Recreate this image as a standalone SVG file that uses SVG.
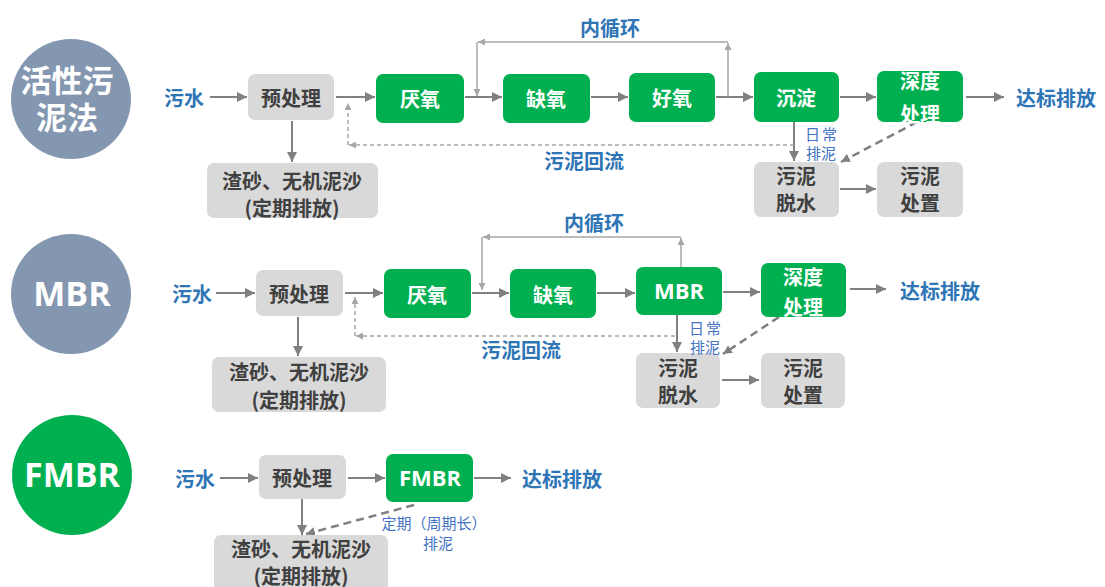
<svg xmlns="http://www.w3.org/2000/svg" width="1105" height="587" viewBox="0 0 1105 587">
<style>
text{font-family:"Noto Sans CJK SC","Noto Sans",sans-serif;dominant-baseline:central;text-anchor:middle}
.lat{font-family:"Open Sans","Noto Sans",sans-serif;font-weight:bold}
.big{font-size:31px;font-weight:bold;fill:#ffffff}
.bigl{font-size:34px;fill:#ffffff}
.lbl{font-size:20px;font-weight:bold;fill:#2E75B6}
.sm{font-size:15px;fill:#4472C4}
.g{fill:#00B050}
.gr{fill:#D9D9D9}
.tw{font-size:20px;font-weight:bold;fill:#ffffff}
.tg{font-size:20px;font-weight:bold;fill:#404040}
.a{stroke:#808080;stroke-width:2;fill:none;marker-end:url(#ah)}
.loop{stroke:#A6A6A6;stroke-width:1.5;fill:none;marker-end:url(#as)}
.ret{stroke:#A6A6A6;stroke-width:1.5;fill:none;stroke-dasharray:4 3;marker-end:url(#as)}
.dg{stroke:#808080;stroke-width:2.5;fill:none;stroke-dasharray:8 5;marker-end:url(#ad)}
</style>
<defs>
<marker id="ah" viewBox="0 0 10 10" refX="10" refY="5" markerWidth="11" markerHeight="10" markerUnits="userSpaceOnUse" orient="auto"><path d="M0,0 L10,5 L0,10 z" fill="#808080"/></marker>
<marker id="as" viewBox="0 0 10 10" refX="10" refY="5" markerWidth="7" markerHeight="7" markerUnits="userSpaceOnUse" orient="auto"><path d="M0,0 L10,5 L0,10 z" fill="#A6A6A6"/></marker>
<marker id="ad" viewBox="0 0 10 10" refX="10" refY="5" markerWidth="9" markerHeight="9" markerUnits="userSpaceOnUse" orient="auto"><path d="M0,0 L10,5 L0,10 z" fill="#808080"/></marker>
</defs>
<rect width="1105" height="587" fill="#ffffff"/>

<g id="connectors">
<!-- row 1 -->
<line class="a" x1="210" y1="97" x2="247" y2="97"/>
<line class="a" x1="336" y1="97" x2="375" y2="97"/>
<line class="a" x1="465" y1="97" x2="502" y2="97"/>
<line class="a" x1="591" y1="97" x2="628" y2="97"/>
<line class="a" x1="716" y1="97" x2="753" y2="97"/>
<line class="a" x1="840" y1="97" x2="876" y2="97"/>
<line class="a" x1="966" y1="97" x2="1004" y2="97"/>
<line class="a" x1="292" y1="121" x2="292" y2="162"/>
<line class="a" x1="794" y1="122" x2="794" y2="161"/>
<line class="a" x1="840" y1="189" x2="876" y2="189"/>
<line class="dg" x1="917" y1="122" x2="841" y2="162"/>
<line class="ret" x1="794" y1="145" x2="349" y2="145"/>
<line class="ret" x1="348" y1="145" x2="348" y2="103"/>
<line class="loop" x1="728" y1="97" x2="728" y2="43"/>
<line class="loop" x1="728" y1="42" x2="478" y2="42"/>
<line class="loop" x1="477" y1="42" x2="477" y2="96"/>
<!-- row 2 -->
<line class="a" x1="216" y1="293" x2="255" y2="293"/>
<line class="a" x1="345" y1="293" x2="383" y2="293"/>
<line class="a" x1="472" y1="293" x2="509" y2="293"/>
<line class="a" x1="597" y1="293" x2="635" y2="293"/>
<line class="a" x1="723" y1="292" x2="760" y2="292"/>
<line class="a" x1="850" y1="289" x2="886" y2="289"/>
<line class="a" x1="298" y1="317" x2="298" y2="356"/>
<line class="a" x1="677" y1="315" x2="677" y2="352"/>
<line class="a" x1="722" y1="380" x2="759" y2="380"/>
<line class="dg" x1="779" y1="317" x2="723" y2="354"/>
<line class="ret" x1="675" y1="336" x2="356" y2="336"/>
<line class="ret" x1="355" y1="336" x2="355" y2="297"/>
<line class="loop" x1="681" y1="267" x2="681" y2="238"/>
<line class="loop" x1="681" y1="237" x2="483" y2="237"/>
<line class="loop" x1="482" y1="237" x2="482" y2="290"/>
<!-- row 3 -->
<line class="a" x1="220" y1="478" x2="258" y2="478"/>
<line class="a" x1="348" y1="478" x2="385" y2="478"/>
<line class="a" x1="474" y1="478" x2="511" y2="478"/>
<line class="a" x1="302" y1="499" x2="302" y2="535"/>
<line class="dg" x1="414" y1="505" x2="306" y2="534"/>
</g>

<!-- Row 1: 活性污泥法 -->
<g id="circle-asp"><circle cx="71" cy="99" r="60" fill="#8497B0"/><text class="big"><tspan x="67" y="78">活性污</tspan><tspan x="67" y="115">泥法</tspan></text></g>
<g id="in1"><text class="lbl" x="184" y="97">污水</text></g>
<g id="pre1"><rect class="gr" x="248" y="74" width="86" height="46" rx="7"/><text class="tg" x="291" y="97">预处理</text></g>
<g id="ana1"><rect class="g" x="376" y="74" width="88" height="49" rx="7"/><text class="tw" x="420" y="98">厌氧</text></g>
<g id="anox1"><rect class="g" x="503" y="74" width="87" height="49" rx="7"/><text class="tw" x="546" y="98">缺氧</text></g>
<g id="aer1"><rect class="g" x="629" y="73" width="86" height="49" rx="7"/><text class="tw" x="672" y="97">好氧</text></g>
<g id="sed1"><rect class="g" x="754" y="72" width="85" height="50" rx="7"/><text class="tw" x="796" y="97">沉淀</text></g>
<g id="adv1"><rect class="g" x="877" y="71" width="86" height="51" rx="7"/><text class="tw" x="920" y="80">深度</text><text class="tw" x="920" y="113">处理</text></g>
<g id="out1"><text class="lbl" x="1056" y="97">达标排放</text></g>
<g id="grit1"><rect class="gr" x="207" y="163" width="171" height="55" rx="7"/><text class="tg" x="292" y="180">渣砂、无机泥沙</text><text class="tg" x="292" y="207">(定期排放)</text></g>
<g id="dew1"><rect class="gr" x="754" y="162" width="85" height="55" rx="7"/><text class="tg" x="796" y="175">污泥</text><text class="tg" x="796" y="202">脱水</text></g>
<g id="disp1"><rect class="gr" x="877" y="162" width="86" height="55" rx="7"/><text class="tg" x="920" y="175">污泥</text><text class="tg" x="920" y="202">处置</text></g>
<g id="lbl1"><text class="lbl" x="610" y="27">内循环</text><text class="lbl" x="584" y="160">污泥回流</text><text class="sm" x="822" y="133" letter-spacing="2">日常</text><text class="sm" x="821" y="152">排泥</text></g>

<!-- Row 2: MBR -->
<g id="circle-mbr"><circle cx="71" cy="294" r="60" fill="#8497B0"/><text class="lat bigl" x="72" y="293">MBR</text></g>
<g id="in2"><text class="lbl" x="192" y="293">污水</text></g>
<g id="pre2"><rect class="gr" x="256" y="270" width="87" height="46" rx="7"/><text class="tg" x="299" y="293">预处理</text></g>
<g id="ana2"><rect class="g" x="384" y="269" width="87" height="49" rx="7"/><text class="tw" x="427" y="294">厌氧</text></g>
<g id="anox2"><rect class="g" x="510" y="269" width="86" height="49" rx="7"/><text class="tw" x="553" y="294">缺氧</text></g>
<g id="mbr2"><rect class="g" x="636" y="267" width="86" height="48" rx="7"/><text class="lat" x="679" y="290" style="font-size:22px;fill:#fff">MBR</text></g>
<g id="adv2"><rect class="g" x="761" y="263" width="85" height="54" rx="7"/><text class="tw" x="803" y="276">深度</text><text class="tw" x="803" y="306">处理</text></g>
<g id="out2"><text class="lbl" x="940" y="290">达标排放</text></g>
<g id="grit2"><rect class="gr" x="212" y="357" width="174" height="55" rx="7"/><text class="tg" x="299" y="371">渣砂、无机泥沙</text><text class="tg" x="299" y="399">(定期排放)</text></g>
<g id="dew2"><rect class="gr" x="636" y="353" width="84" height="55" rx="7"/><text class="tg" x="678" y="367">污泥</text><text class="tg" x="678" y="394">脱水</text></g>
<g id="disp2"><rect class="gr" x="761" y="353" width="84" height="55" rx="7"/><text class="tg" x="803" y="367">污泥</text><text class="tg" x="803" y="394">处置</text></g>
<g id="lbl2"><text class="lbl" x="594" y="222">内循环</text><text class="lbl" x="521" y="349">污泥回流</text><text class="sm" x="706" y="327" letter-spacing="2">日常</text><text class="sm" x="705" y="346">排泥</text></g>

<!-- Row 3: FMBR -->
<g id="circle-fmbr"><circle cx="72" cy="475" r="60" fill="#00B050"/><text class="lat bigl" x="72" y="474">FMBR</text></g>
<g id="in3"><text class="lbl" x="195" y="478">污水</text></g>
<g id="pre3"><rect class="gr" x="259" y="455" width="87" height="44" rx="7"/><text class="tg" x="302" y="477">预处理</text></g>
<g id="fmbr3"><rect class="g" x="386" y="454" width="87" height="48" rx="7"/><text class="lat" x="430" y="477" style="font-size:22px;fill:#fff">FMBR</text></g>
<g id="out3"><text class="lbl" x="562" y="478">达标排放</text></g>
<g id="grit3"><rect class="gr" x="214" y="535" width="174" height="62" rx="7"/><text class="tg" x="301" y="548">渣砂、无机泥沙</text><text class="tg" x="301" y="575">(定期排放)</text></g>
<g id="lbl3"><text class="sm" x="434" y="522">定期（周期长）</text><text class="sm" x="438" y="542">排泥</text></g>
</svg>
